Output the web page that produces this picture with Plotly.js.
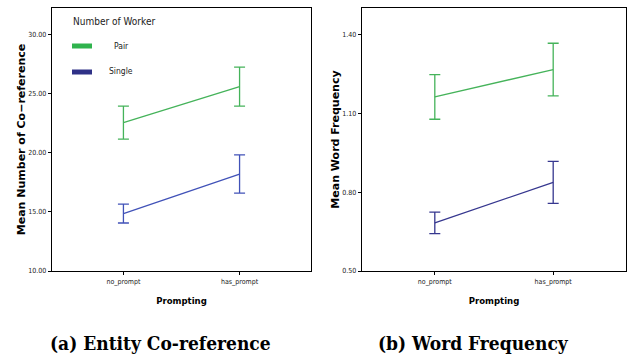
<!DOCTYPE html>
<html>
<head>
<meta charset="utf-8">
<script src="https://cdn.plot.ly/plotly-3.0.1.min.js"></script>
<style>html,body{margin:0;padding:0;background:#fff;}#chart{width:627px;height:358px;}</style>
</head>
<body>
<div id="chart"></div>
<script>
const categories = ['no_prompt', 'has_prompt'];
const seriesNames = ['Pair', 'Single'];
const legendTitle = 'Number of Worker';
// (a) Entity Co-reference
const corefPair = [22.55, 25.6];
const corefPairErr = [1.4, 1.65];
const corefSingle = [14.86, 18.2];
const corefSingleErr = [0.8, 1.62];
// (b) Word Frequency
const freqPair = [1.162, 1.266];
const freqPairErr = [0.085, 0.1];
const freqSingle = [0.683, 0.837];
const freqSingleErr = [0.041, 0.08];

const corefTicks = [10, 15, 20, 25, 30];
const freqTicks = [0.5, 0.8, 1.1, 1.4];

const greenLine = '#45b35a';
const blueLineA = '#4152b8';
const blueLineB = '#36378f';
const greenLegend = '#2fb34d';
const blueLegend = '#2f3187';

function series(x, y, err, color, xa, ya, name) {
  return {
    type: 'scatter', mode: 'lines', x: x, y: y, xaxis: xa, yaxis: ya, name: name,
    line: {color: color, width: 1.3}, showlegend: false, hoverinfo: 'skip',
    error_y: {type: 'data', array: err, visible: true, color: color, thickness: 1.3, width: 5.5}
  };
}
const data = [
  series(categories, corefPair, corefPairErr, greenLine, 'x', 'y', seriesNames[0]),
  series(categories, corefSingle, corefSingleErr, blueLineA, 'x', 'y', seriesNames[1]),
  series(categories, freqPair, freqPairErr, greenLine, 'x2', 'y2', seriesNames[0]),
  series(categories, freqSingle, freqSingleErr, blueLineB, 'x2', 'y2', seriesNames[1])
];

const condensed = 'DejaVu Sans Condensed, DejaVu Sans, sans-serif';
const tickFont = {family: condensed, size: 7, color: '#222'};
const titleFont = {family: 'DejaVu Sans, sans-serif', size: 11, color: '#000', weight: 'bold'};
const xTitleFont = {family: condensed, size: 9.5, color: '#000', weight: 'bold'};

function xaxis(domain) {
  return {
    domain: domain, type: 'category', range: [-0.615, 1.615], showgrid: false, zeroline: false,
    showline: true, mirror: true, linecolor: '#000', linewidth: 1.4,
    ticks: 'outside', ticklen: 3, tickcolor: '#000', tickwidth: 1, tickfont: tickFont,
    title: {text: 'Prompting', font: xTitleFont, standoff: 12}, fixedrange: true
  };
}
function yaxis(domain, range, ticks, title, anchor, standoff) {
  return {
    domain: domain, range: range, tickvals: ticks, tickformat: '.2f', showgrid: false, zeroline: false,
    showline: true, mirror: true, linecolor: '#000', linewidth: 1.4, anchor: anchor,
    ticks: 'outside', ticklen: 3, tickcolor: '#000', tickwidth: 1, tickfont: tickFont,
    title: {text: title, font: titleFont, standoff: standoff}, fixedrange: true
  };
}

const W = 627, H = 358;
const px = v => v / W, py = v => 1 - v / H;
const yDom = [py(271), py(8)];
const captionFont = {family: 'DejaVu Serif Condensed, DejaVu Serif, serif', size: 19, color: '#000', weight: 'bold'};
const legendFont = {family: condensed, size: 8.5, color: '#222'};

const layout = {
  width: W, height: H, margin: {l: 0, r: 0, t: 0, b: 0},
  paper_bgcolor: '#fff', plot_bgcolor: '#fff', showlegend: false,
  xaxis: Object.assign(xaxis([px(52), px(311)]), {anchor: 'y'}),
  yaxis: yaxis(yDom, [10, 32.25], corefTicks, 'Mean Number of Co\u2212reference', 'x', 0),
  xaxis2: Object.assign(xaxis([px(362), px(626)]), {anchor: 'y2'}),
  yaxis2: yaxis(yDom, [0.5, 1.5], freqTicks, 'Mean Word Frequency', 'x2', 0),
  shapes: [
    {type: 'line', xref: 'paper', yref: 'paper', x0: px(72), x1: px(92), y0: py(46), y1: py(46),
     line: {color: greenLegend, width: 5}},
    {type: 'line', xref: 'paper', yref: 'paper', x0: px(72), x1: px(92), y0: py(72), y1: py(72),
     line: {color: blueLegend, width: 5}}
  ],
  annotations: [
    {text: legendTitle, xref: 'paper', yref: 'paper', x: px(71), y: py(22), xanchor: 'left', yanchor: 'middle',
     showarrow: false, font: {family: condensed, size: 10, color: '#222'}},
    {text: seriesNames[0], xref: 'paper', yref: 'paper', x: px(121), y: py(46), xanchor: 'center', yanchor: 'middle',
     showarrow: false, font: legendFont},
    {text: seriesNames[1], xref: 'paper', yref: 'paper', x: px(121), y: py(71), xanchor: 'center', yanchor: 'middle',
     showarrow: false, font: legendFont},
    {text: '(a) Entity Co-reference', xref: 'paper', yref: 'paper', x: px(160), y: py(343),
     xanchor: 'center', yanchor: 'middle', showarrow: false, font: captionFont},
    {text: '(b) Word Frequency', xref: 'paper', yref: 'paper', x: px(474), y: py(343),
     xanchor: 'center', yanchor: 'middle', showarrow: false, font: captionFont}
  ]
};

Plotly.newPlot('chart', data, layout, {staticPlot: true, displayModeBar: false});
</script>
</body>
</html>
